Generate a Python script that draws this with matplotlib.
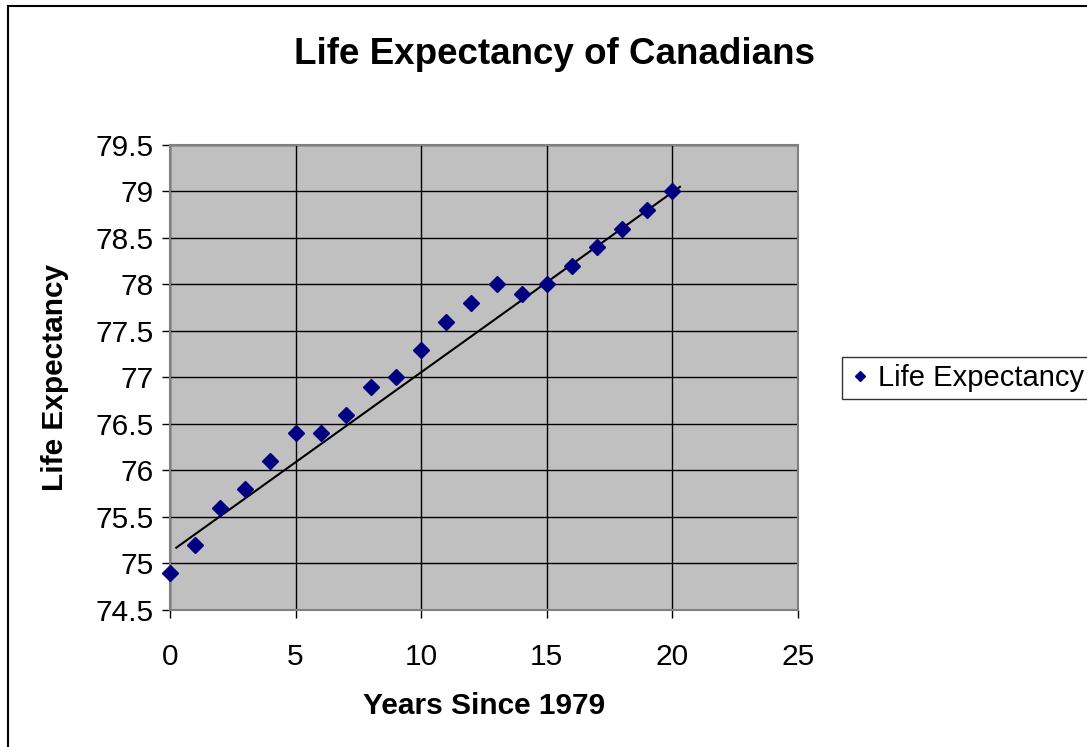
import matplotlib
matplotlib.use("Agg")
import matplotlib.pyplot as plt
from matplotlib.patches import Rectangle

plt.rcParams['font.family'] = ['Liberation Sans', 'DejaVu Sans']

# data
years = [0, 1, 2, 3, 4, 5, 6, 7, 8, 9, 10,
         11, 12, 13, 14, 15, 16, 17, 18, 19, 20]
life_exp = [74.9, 75.2, 75.6, 75.8, 76.1, 76.4, 76.4, 76.6, 76.9, 77.0, 77.3,
            77.6, 77.8, 78.0, 77.9, 78.0, 78.2, 78.4, 78.6, 78.8, 79.0]
# hand drawn line of best fit (end points)
fit_x = [0.25, 20.3]
fit_y = [75.17, 79.05]

W, H = 1087, 747
fig = plt.figure(figsize=(W / 100, H / 100), dpi=100)
ax = fig.add_axes([170 / W, 1 - 610 / H, (798 - 170) / W, (610 - 145) / H])
ax.set_facecolor('#c0c0c0')

pts, = ax.plot(years, life_exp, 'D', color='#000080', ms=8, zorder=4,
               label='Life Expectancy', clip_on=False)
ax.plot(fit_x, fit_y, color='black', lw=1.5, zorder=3)

ax.set_xlim(0, 25)
ax.set_ylim(74.5, 79.5)
ax.set_xticks(range(0, 26, 5))
ax.set_yticks([74.5 + 0.5 * i for i in range(11)])
ax.set_yticklabels(['74.5', '75', '75.5', '76', '76.5', '77', '77.5',
                    '78', '78.5', '79', '79.5'])
ax.grid(True, color='black', lw=1)
ax.set_axisbelow(True)
ax.tick_params(direction='out', length=6, width=1, color='black',
               labelsize=21.5, pad=6)
ax.tick_params(axis='x', pad=18)
for s in ax.spines.values():
    s.set_color('#808080')
    s.set_linewidth(1.5)

ax.set_xlabel('Years Since 1979', fontsize=21.5, fontweight='bold', labelpad=15)
ax.set_ylabel('Life Expectancy', fontsize=21.5, fontweight='bold', labelpad=19)
fig.text(555 / W, 1 - 55 / H, 'Life Expectancy of Canadians', fontsize=26.5,
         fontweight='bold', ha='center', va='center')

leg = fig.legend(handles=[pts], loc='center left',
                 bbox_to_anchor=(842 / W, 1 - 378 / H), fontsize=21,
                 frameon=True, fancybox=False, edgecolor='black',
                 handlelength=0.7, handletextpad=0.3, borderpad=0.25,
                 borderaxespad=0, markerscale=0.7)
leg.get_frame().set_linewidth(1)

# outer chart border (right and bottom edges fall outside the image)
fig.patches.append(Rectangle((8 / W, -0.01), 1.0, 1 - 6 / H + 0.01,
                             transform=fig.transFigure, fill=False,
                             edgecolor='black', lw=1.5))

fig.savefig('out.png', dpi=100)
